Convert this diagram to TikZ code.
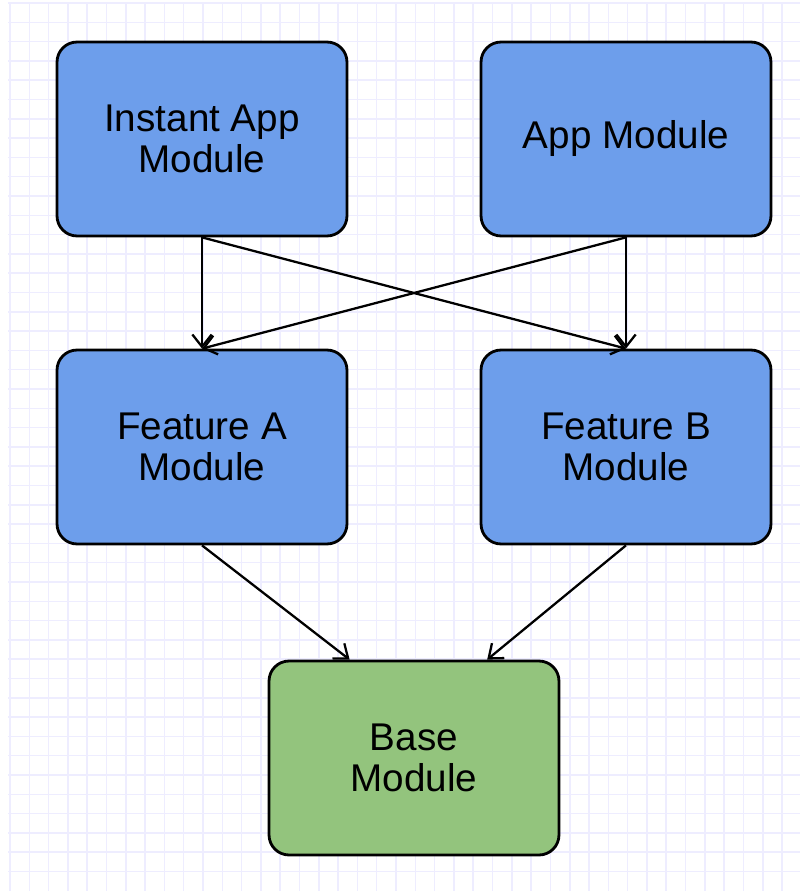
\documentclass[tikz,border=0pt]{standalone}
\usepackage{fontspec}
\setmainfont{Liberation Sans}
\usepackage{xcolor}
\usepackage{tikz}
\usetikzlibrary{arrows.meta,positioning,calc}

\definecolor{modblue}{HTML}{6D9EEB}
\definecolor{modgreen}{HTML}{93C47D}
\definecolor{gridcol}{HTML}{EEEDFF}

\tikzset{
    module/.style={draw=black, line width=1.6pt, rounded corners=0.4cm,
        minimum width=5.8cm, minimum height=3.88cm, align=center,
        font=\fontsize{22}{23.5}\selectfont},
    dep/.style={-{Straight Barb[length=7pt,width=11pt]}, line width=1.3pt, black}
}

\begin{document}
\begin{tikzpicture}[x=0.02cm, y=-0.02cm]
    \useasboundingbox (0,0) rectangle (800,891);

    % Background grid
    \foreach \i in {0,...,41}
        \draw[gridcol, line width=0.9pt] (10+19.3*\i,3) -- (10+19.3*\i,891);
    \foreach \j in {0,...,45}
        \draw[gridcol, line width=0.9pt] (8,3+19.3*\j) -- (800,3+19.3*\j);

    % Top row
    \node[module, fill=modblue] (instant) at (202,139) {Instant App\\Module};
    \node[module, fill=modblue] (app) at (626,139) {App Module};

    % Feature modules
    \node[module, fill=modblue] (featA) at (202,447) {Feature A\\Module};
    \node[module, fill=modblue] (featB) at (626,447) {Feature B\\Module};

    % Base module
    \node[module, fill=modgreen] (base) at (414,758) {Base\\Module};

    % Dependencies
    \draw[dep] (instant.south) -- (featA.north);
    \draw[dep] (instant.south) -- (featB.north);
    \draw[dep] (app.south) -- (featA.north);
    \draw[dep] (app.south) -- (featB.north);
    \draw[dep] (featA.south) -- ($(base.north west)!0.28!(base.north east)$);
    \draw[dep] (featB.south) -- ($(base.north west)!0.75!(base.north east)$);
\end{tikzpicture}
\end{document}
